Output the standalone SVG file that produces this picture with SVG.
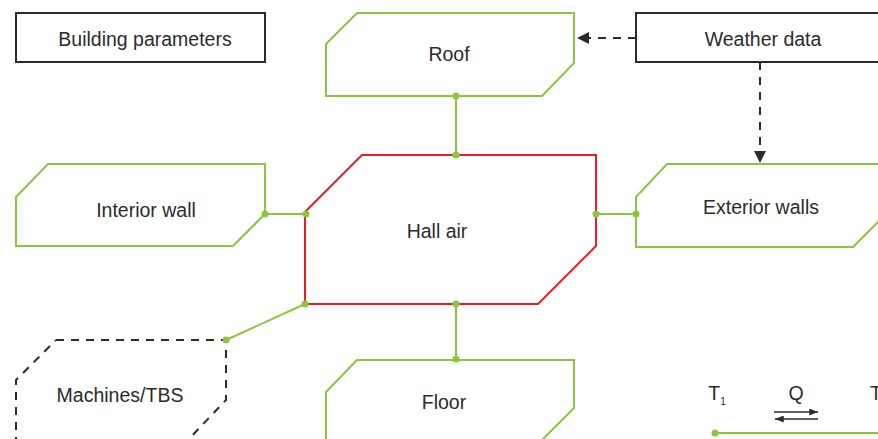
<svg xmlns="http://www.w3.org/2000/svg" width="878" height="439" viewBox="0 0 878 439">
<defs>
<style>
.t{font-family:"Liberation Sans","Noto Sans",sans-serif;font-size:19.5px;fill:#2b2b2b;text-anchor:middle}
.g{fill:#fff;stroke:#8cc63f;stroke-width:2}
.r{fill:#fff;stroke:#ed1c24;stroke-width:2}
.b{fill:#fff;stroke:#2b2b2b;stroke-width:2}
.d{fill:none;stroke:#2b2b2b;stroke-width:2;stroke-dasharray:8 7}
.c{fill:none;stroke:#8cc63f;stroke-width:2}
.dot{fill:#8cc63f}
.a{fill:none;stroke:#2b2b2b;stroke-width:1.5}
</style>
<marker id="ah" viewBox="0 0 10 10" refX="10" refY="5" markerWidth="12" markerHeight="12" markerUnits="userSpaceOnUse" orient="auto">
<path d="M0,0 L10,5 L0,10 z" fill="#2b2b2b"/>
</marker>
<marker id="sh" viewBox="0 0 10 8" refX="10" refY="4" markerWidth="9" markerHeight="7" markerUnits="userSpaceOnUse" orient="auto">
<path d="M0,0 L10,4 L0,8 z" fill="#2b2b2b"/>
</marker>
</defs>
<rect width="878" height="439" fill="#fff"/>

<g id="building-parameters">
<rect class="b" x="16" y="13" width="249" height="49"/>
<text class="t" x="145" y="46">Building parameters</text>
</g>

<g id="weather-data">
<rect class="b" x="636" y="13" width="260" height="49"/>
<text class="t" x="763" y="46">Weather data</text>
</g>

<g id="roof">
<path class="g" d="M357,13 L574,13 L574,63 L542,96 L326,96 L326,44 Z"/>
<text class="t" x="449" y="61">Roof</text>
</g>

<g id="interior-wall">
<path class="g" d="M48,164 L265,164 L265,214 L233,246 L16,246 L16,197 Z"/>
<text class="t" x="146" y="217">Interior wall</text>
</g>

<g id="exterior-walls">
<path class="g" d="M667,164 L900,164 L900,200 L853,247 L636,247 L636,197 Z"/>
<text class="t" x="761" y="214">Exterior walls</text>
</g>

<g id="hall-air">
<path class="r" d="M362,155 L596,155 L596,246 L538,304 L305,304 L305,212 Z"/>
<text class="t" x="437" y="238">Hall air</text>
</g>

<g id="machines-tbs">
<path class="d" d="M56,340 L226,340 L226,400 L188,440 M16,445 L16,380 L56,340"/>
<text class="t" x="120" y="402">Machines/TBS</text>
</g>

<g id="floor">
<path class="g" d="M357,360 L574,360 L574,408 L540,442 L326,442 L326,392 Z"/>
<text class="t" x="444" y="409">Floor</text>
</g>

<g id="connectors">
<line class="d" x1="636" y1="38" x2="577" y2="38" marker-end="url(#ah)"/>
<line class="d" x1="760" y1="62" x2="760" y2="163" marker-end="url(#ah)"/>
<line class="c" x1="456" y1="96" x2="456" y2="155"/>
<line class="c" x1="265" y1="214" x2="306" y2="214"/>
<line class="c" x1="596" y1="214" x2="636" y2="214"/>
<line class="c" x1="456" y1="304" x2="456" y2="360"/>
<line class="c" x1="226" y1="340" x2="305" y2="304"/>
<circle class="dot" cx="456" cy="96" r="3.5"/>
<circle class="dot" cx="456" cy="155" r="3.5"/>
<circle class="dot" cx="265" cy="214" r="3.5"/>
<circle class="dot" cx="306" cy="214" r="3.5"/>
<circle class="dot" cx="596" cy="214" r="3.5"/>
<circle class="dot" cx="636" cy="214" r="3.5"/>
<circle class="dot" cx="456" cy="304" r="3.5"/>
<circle class="dot" cx="456" cy="359" r="3.5"/>
<circle class="dot" cx="305" cy="304" r="3.5"/>
<circle class="dot" cx="226" cy="340" r="3.5"/>
</g>

<g id="legend">
<text class="t" x="717" y="400">T<tspan font-size="10" dy="5">1</tspan></text>
<text class="t" x="796" y="400">Q</text>
<text class="t" x="876" y="400">T</text>
<line class="a" x1="774" y1="412" x2="818" y2="412" marker-end="url(#sh)"/>
<line class="a" x1="818" y1="419" x2="775" y2="419" marker-end="url(#sh)"/>
<line class="c" x1="715" y1="433" x2="878" y2="433"/>
<circle class="dot" cx="715" cy="433" r="3.5"/>
</g>
</svg>
